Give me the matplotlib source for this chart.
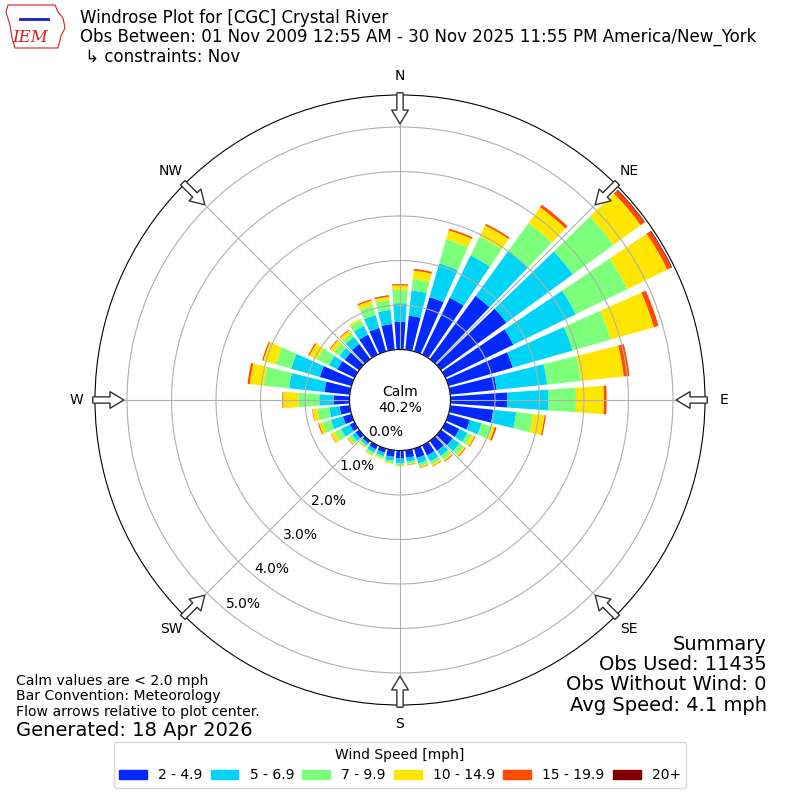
import numpy as np
import matplotlib

matplotlib.use("Agg")
import matplotlib.pyplot as plt
from matplotlib.patches import Patch, FancyArrowPatch, Polygon
from matplotlib.lines import Line2D

# wind direction of each bar (degrees, meteorological)
directions = np.arange(0, 360, 10)

# cumulative frequency [%] at the top of each speed band, per direction
cum_2_5 = [0.62, 0.77, 1.27, 1.42, 1.76, 1.82, 1.70, 1.50, 1.05, 1.28,
           0.97, 0.50, 0.35, 0.33, 0.28, 0.25, 0.22, 0.17, 0.18, 0.15,
           0.10, 0.10, 0.07, 0.10, 0.12, 0.20, 0.23, 0.36, 0.57, 0.74,
           0.43, 0.40, 0.42, 0.50, 0.55, 0.58]
cum_5_7 = [1.04, 1.34, 2.06, 2.48, 3.00, 3.67, 3.26, 2.90, 2.19, 2.20,
           1.49, 0.77, 0.55, 0.52, 0.42, 0.40, 0.35, 0.26, 0.29, 0.24,
           0.18, 0.18, 0.13, 0.20, 0.34, 0.48, 0.46, 0.68, 1.37, 1.41,
           0.64, 0.55, 0.62, 0.72, 0.85, 0.90]
cum_7_10 = [1.34, 1.60, 2.62, 2.95, 3.78, 4.80, 4.55, 3.79, 2.95, 2.82,
            1.87, 1.02, 0.66, 0.64, 0.52, 0.48, 0.42, 0.31, 0.34, 0.29,
            0.23, 0.24, 0.17, 0.28, 0.50, 0.68, 0.73, 1.15, 1.94, 1.77,
            0.94, 0.70, 0.72, 0.86, 1.08, 1.12]
cum_10_15 = [1.44, 1.79, 2.83, 3.23, 4.22, 5.55, 5.55, 4.80, 3.92, 3.45,
             2.13, 1.08, 0.73, 0.68, 0.56, 0.52, 0.45, 0.33, 0.36, 0.31,
             0.25, 0.27, 0.20, 0.32, 0.59, 0.76, 0.84, 1.49, 2.26, 2.06,
             1.13, 0.80, 0.80, 0.90, 1.19, 1.20]
cum_15_20 = [1.47, 1.83, 2.87, 3.27, 4.29, 5.65, 5.65, 4.91, 4.05, 3.51,
             2.16, 1.12, 0.75, 0.70, 0.58, 0.53, 0.46, 0.34, 0.36, 0.31,
             0.25, 0.27, 0.20, 0.33, 0.60, 0.78, 0.85, 1.51, 2.31, 2.09,
             1.16, 0.82, 0.82, 0.90, 1.22, 1.22]
cum_20 = [1.47, 1.83, 2.87, 3.27, 4.29, 5.67, 5.67, 4.91, 4.05, 3.51,
          2.16, 1.12, 0.75, 0.70, 0.58, 0.53, 0.46, 0.34, 0.36, 0.31,
          0.25, 0.27, 0.20, 0.33, 0.60, 0.78, 0.85, 1.51, 2.31, 2.09,
          1.16, 0.82, 0.82, 0.90, 1.22, 1.23]

bands = [cum_2_5, cum_5_7, cum_7_10, cum_10_15, cum_15_20, cum_20]
band_labels = ["2 - 4.9", "5 - 6.9", "7 - 9.9", "10 - 14.9", "15 - 19.9", "20+"]
band_colors = ["#0028ff", "#00d5f7", "#7cff7a", "#ffe600", "#ff4a00", "#800000"]

calm_pct = 40.2
compass = ["N", "NE", "E", "SE", "S", "SW", "W", "NW"]
rings = [0, 1, 2, 3, 4, 5]

fig = plt.figure(figsize=(8, 8), dpi=100)
ax = fig.add_axes([0.11875, 0.11875, 0.7625, 0.7625], projection="polar")
ax.set_theta_zero_location("N")
ax.set_theta_direction(-1)
ax.set_ylim(0, 5.72)
ax.set_rorigin(-1.135)

theta = np.deg2rad(directions)
width = np.deg2rad(8)
bottom = np.zeros(len(directions))
for top, color in zip(bands, band_colors):
    top = np.array(top)
    ax.bar(theta, top - bottom, bottom=bottom, width=width, color=color,
           linewidth=0)
    bottom = top

ax.set_yticks(rings)
ax.set_yticklabels([f"{r:.1f}%" for r in rings], fontsize=10)
ax.set_rlabel_position(219.5)
ax.set_xticks(np.deg2rad(np.arange(0, 360, 45)))
ax.set_xticklabels(compass, fontsize=10)
ax.tick_params(axis="x", pad=3)

ax.text(0.5, 0.5, f"Calm\n{calm_pct:.1f}%", transform=ax.transAxes,
        ha="center", va="center", fontsize=10)

# flow arrows on the rim
for d in np.arange(0, 360, 45):
    arrow = FancyArrowPatch(
        posA=(np.deg2rad(d), 5.77), posB=(np.deg2rad(d), 5.07),
        arrowstyle="simple,head_width=12,head_length=10,tail_width=4.5",
        mutation_scale=1, shrinkA=0, shrinkB=0, facecolor="white",
        edgecolor="#333333", linewidth=1, transform=ax.transData,
        clip_on=False, zorder=5)
    ax.add_patch(arrow)

# rough IEM logo
px = fig.transFigure.inverted()
outline = [(8, 5), (55, 5), (58, 12), (63, 18), (65, 28), (61, 36),
           (58, 48), (15, 48), (12, 38), (10, 25), (6, 12)]
fig.add_artist(Polygon([px.transform((x, 800 - y)) for x, y in outline],
                       closed=True, fill=False, edgecolor="#d42020", lw=0.8,
                       transform=fig.transFigure))
logo_line = px.transform([(20, 800 - 19), (48, 800 - 19)])
fig.add_artist(Line2D(logo_line[:, 0], logo_line[:, 1], color="#1a1ad0",
                      lw=2, transform=fig.transFigure))
fig.text(30 / 800, 1 - 38 / 800, "IEM", color="#d42020", fontstyle="italic",
         family="DejaVu Serif", fontsize=12, ha="center", va="center")

fig.text(0.1, 1 - 9 / 800,
         "Windrose Plot for [CGC] Crystal River\n"
         "Obs Between: 01 Nov 2009 12:55 AM - 30 Nov 2025 11:55 PM America/New_York\n"
         " ↳ constraints: Nov", va="top", fontsize=12, linespacing=1.08)

fig.text(16 / 800, 1 - 674 / 800,
         "Calm values are < 2.0 mph\nBar Convention: Meteorology\n"
         "Flow arrows relative to plot center.",
         va="top", fontsize=10.1, linespacing=1.12)
fig.text(16 / 800, 1 - 730 / 800, "Generated: 18 Apr 2026", va="center",
         fontsize=14)
fig.text(767 / 800, 1 - 635 / 800,
         "Summary\nObs Used: 11435\nObs Without Wind: 0\nAvg Speed: 4.1 mph",
         ha="right", va="top", fontsize=14, multialignment="right",
         linespacing=1.08)

handles = [Patch(color=c) for c in band_colors]
fig.legend(handles, band_labels, loc="lower center",
           bbox_to_anchor=(0.5, 12 / 800), borderaxespad=0, ncol=6,
           title="Wind Speed [mph]", fontsize=10, title_fontsize=10,
           handlelength=2.0, columnspacing=0.6)

fig.savefig("out.png", dpi=100)
